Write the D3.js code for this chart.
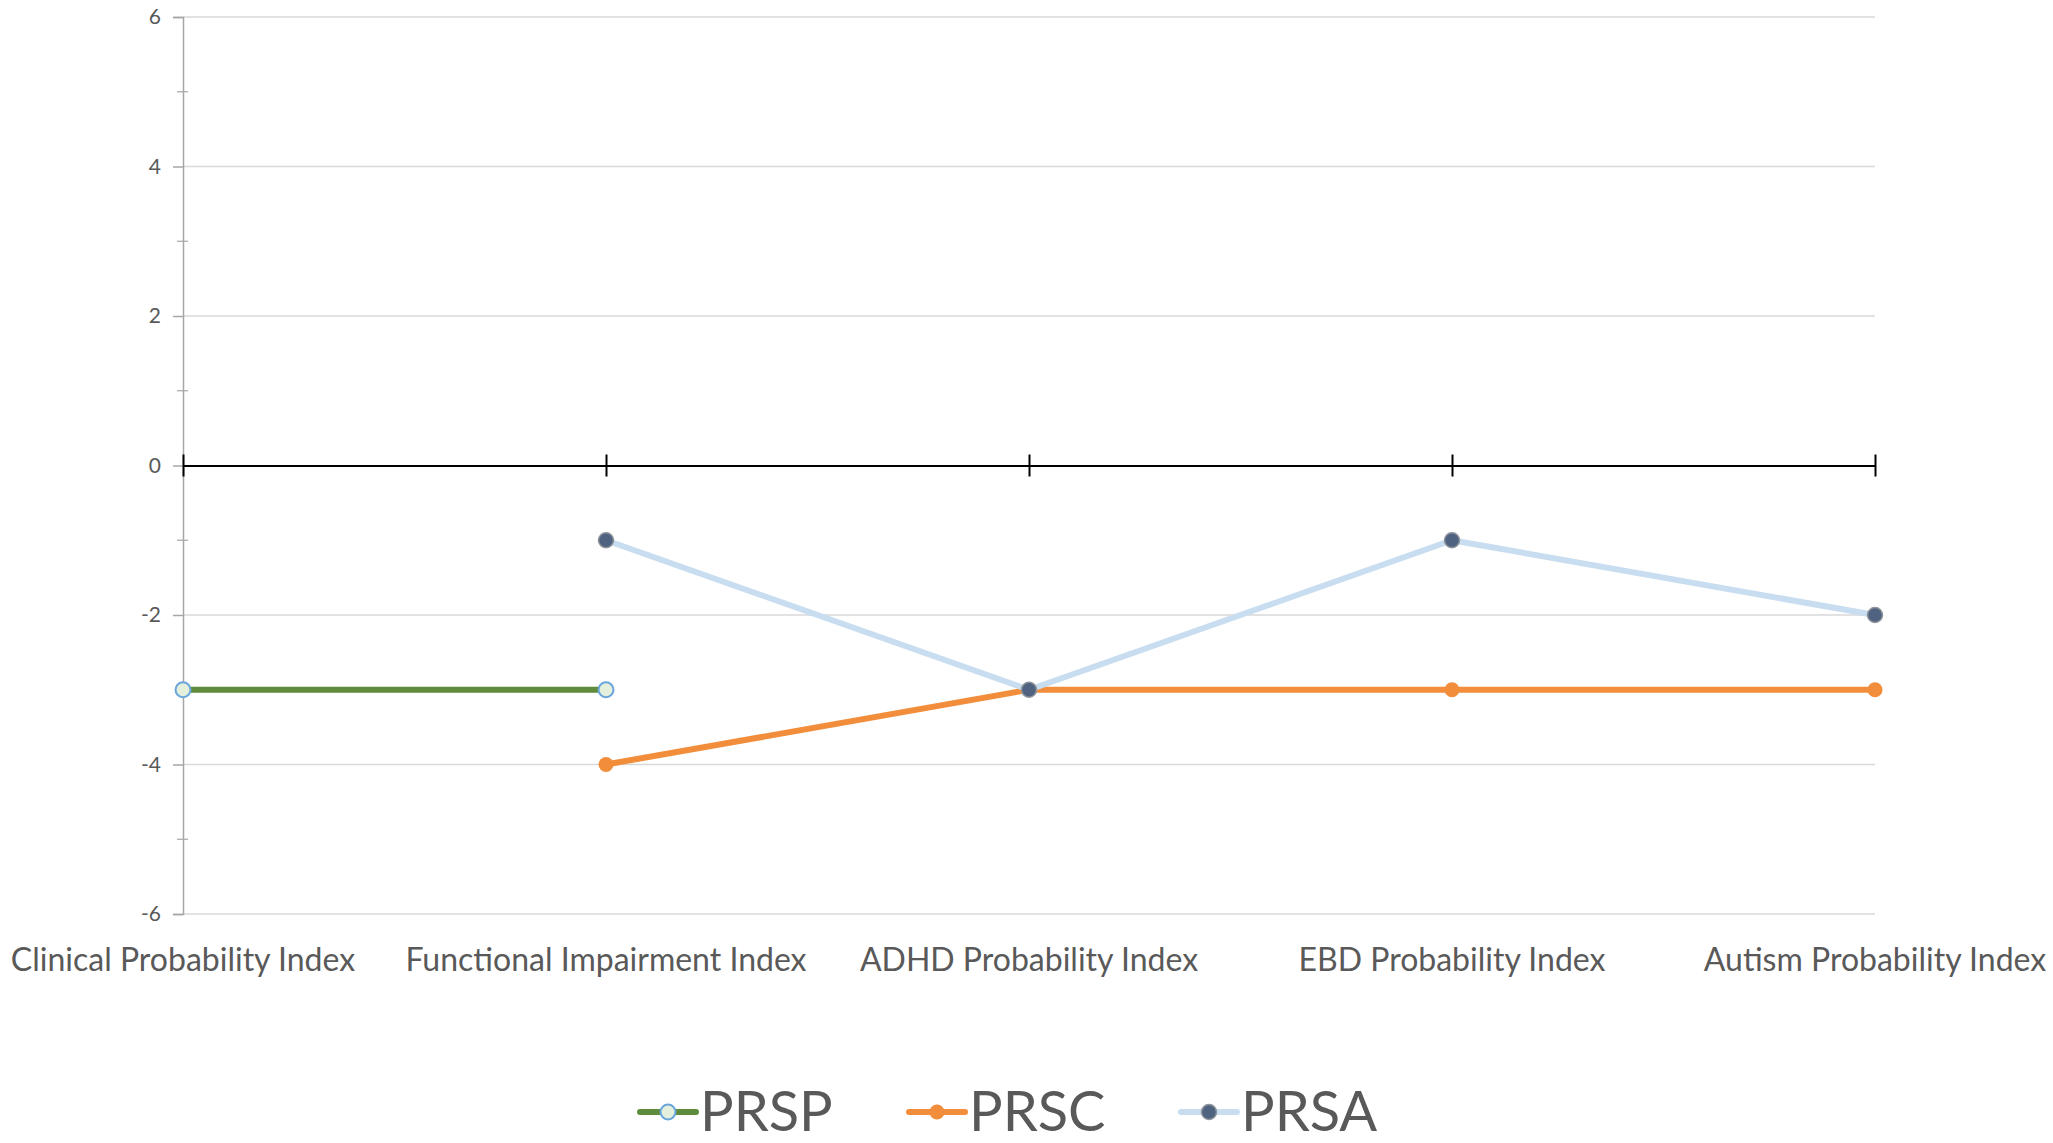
<!DOCTYPE html>
<html>
<head>
<meta charset="utf-8">
<script src="https://cdn.jsdelivr.net/npm/d3@7"></script>
<style>
  html, body { margin: 0; padding: 0; background: #fff; }
  svg { display: block; }
  text { font-family: Lato, "Open Sans", sans-serif; fill: #595959; }
</style>
</head>
<body>
<svg id="chart" width="2053" height="1143"></svg>
<script>
// Index categories along the x axis
const categories = [
  "Clinical Probability Index",
  "Functional Impairment Index",
  "ADHD Probability Index",
  "EBD Probability Index",
  "Autism Probability Index"
];

// Scores per series (null = no value for that index)
const prspValues = [-3, -3, null, null, null];
const prscValues = [null, -4, -3, -3, -3];
const prsaValues = [null, -1, -3, -1, -2];

const seriesNames = ["PRSP", "PRSC", "PRSA"];
const yTickValues = [-6, -4, -2, 0, 2, 4, 6];
const yMinorValues = [-5, -3, -1, 1, 3, 5];

const series = [
  { name: seriesNames[0], values: prspValues, line: "#5f8b3d", fill: "#e4efdc", stroke: "#6aa6dc", strokeW: 2 },
  { name: seriesNames[1], values: prscValues, line: "#f28e3b", fill: "#f28e3b", stroke: "#f28e3b", strokeW: 0 },
  { name: seriesNames[2], values: prsaValues, line: "#c8ddf0", fill: "#4f6381", stroke: "#8e939a", strokeW: 1.5 }
];

const svg = d3.select("#chart");
const plotLeft = 183, plotRight = 1875, plotTop = 17, plotBottom = 914;

const x = d3.scalePoint().domain(categories).range([plotLeft, plotRight]);
const y = d3.scaleLinear().domain([-6, 6]).range([plotBottom, plotTop]);

// Horizontal gridlines (zero line is drawn separately as the category axis)
svg.append("g")
  .selectAll("line")
  .data(yTickValues.filter(v => v !== 0))
  .join("line")
  .attr("x1", plotLeft).attr("x2", plotRight)
  .attr("y1", d => y(d)).attr("y2", d => y(d))
  .attr("stroke", "#d9d9d9").attr("stroke-width", 1.5);

// Value axis (plain hyphen for negatives)
const yAxis = svg.append("g")
  .attr("transform", `translate(${plotLeft},0)`)
  .call(d3.axisLeft(y).tickValues(yTickValues).tickFormat(d => String(d)).tickSize(10).tickPadding(12));
yAxis.select(".domain").attr("stroke", "#a6a6a6").attr("stroke-width", 1.5);
yAxis.selectAll(".tick line").attr("stroke", "#a6a6a6").attr("stroke-width", 1.5).attr("x2", -10);
yAxis.selectAll(".tick text")
  .style("font-family", "Lato, 'Open Sans', sans-serif")
  .style("font-size", "21px").attr("fill", "#595959");

// Minor ticks on the value axis
svg.append("g")
  .selectAll("line")
  .data(yMinorValues)
  .join("line")
  .attr("x1", plotLeft - 6).attr("x2", plotLeft + 5)
  .attr("y1", d => y(d)).attr("y2", d => y(d))
  .attr("stroke", "#a6a6a6").attr("stroke-width", 1.2);

// Category axis crossing at zero
const xAxis = svg.append("g")
  .attr("transform", `translate(0,${y(0)})`)
  .call(d3.axisBottom(x).tickSize(0).tickFormat(""));
xAxis.select(".domain").attr("stroke", "#000").attr("stroke-width", 2.2);
xAxis.selectAll(".tick line")
  .attr("y1", -11).attr("y2", 11)
  .attr("stroke", "#000").attr("stroke-width", 2);

// Category labels below the plot
svg.append("g")
  .selectAll("text")
  .data(categories)
  .join("text")
  .attr("x", d => x(d))
  .attr("y", 971)
  .attr("text-anchor", "middle")
  .style("font-size", "32px")
  .text(d => d);

// Lines and markers
const line = d3.line()
  .defined(d => d.v !== null)
  .x(d => x(d.c))
  .y(d => y(d.v));

series.forEach(s => {
  const pts = categories.map((c, i) => ({ c, v: s.values[i] }));
  svg.append("path")
    .datum(pts)
    .attr("d", line)
    .attr("fill", "none")
    .attr("stroke", s.line)
    .attr("stroke-width", 6)
    .attr("stroke-linejoin", "round");
});

series.forEach(s => {
  const pts = categories.map((c, i) => ({ c, v: s.values[i] })).filter(d => d.v !== null);
  svg.append("g")
    .selectAll("circle")
    .data(pts)
    .join("circle")
    .attr("cx", d => x(d.c))
    .attr("cy", d => y(d.v))
    .attr("r", 7.5)
    .attr("fill", s.fill)
    .attr("stroke", s.stroke)
    .attr("stroke-width", s.strokeW);
});

// Legend
const legendX = [640, 909, 1181];
const legend = svg.append("g");
series.forEach((s, i) => {
  const g = legend.append("g").attr("transform", `translate(${legendX[i]},1112)`);
  g.append("line")
    .attr("x1", 0).attr("x2", 56).attr("y1", 0).attr("y2", 0)
    .attr("stroke", s.line).attr("stroke-width", 6).attr("stroke-linecap", "round");
  g.append("circle")
    .attr("cx", 28).attr("cy", 0).attr("r", 7.5)
    .attr("fill", s.fill).attr("stroke", s.stroke).attr("stroke-width", s.strokeW);
  g.append("text")
    .attr("x", 60).attr("y", 19)
    .style("font-size", "56px")
    .text(s.name);
});
</script>
</body>
</html>
